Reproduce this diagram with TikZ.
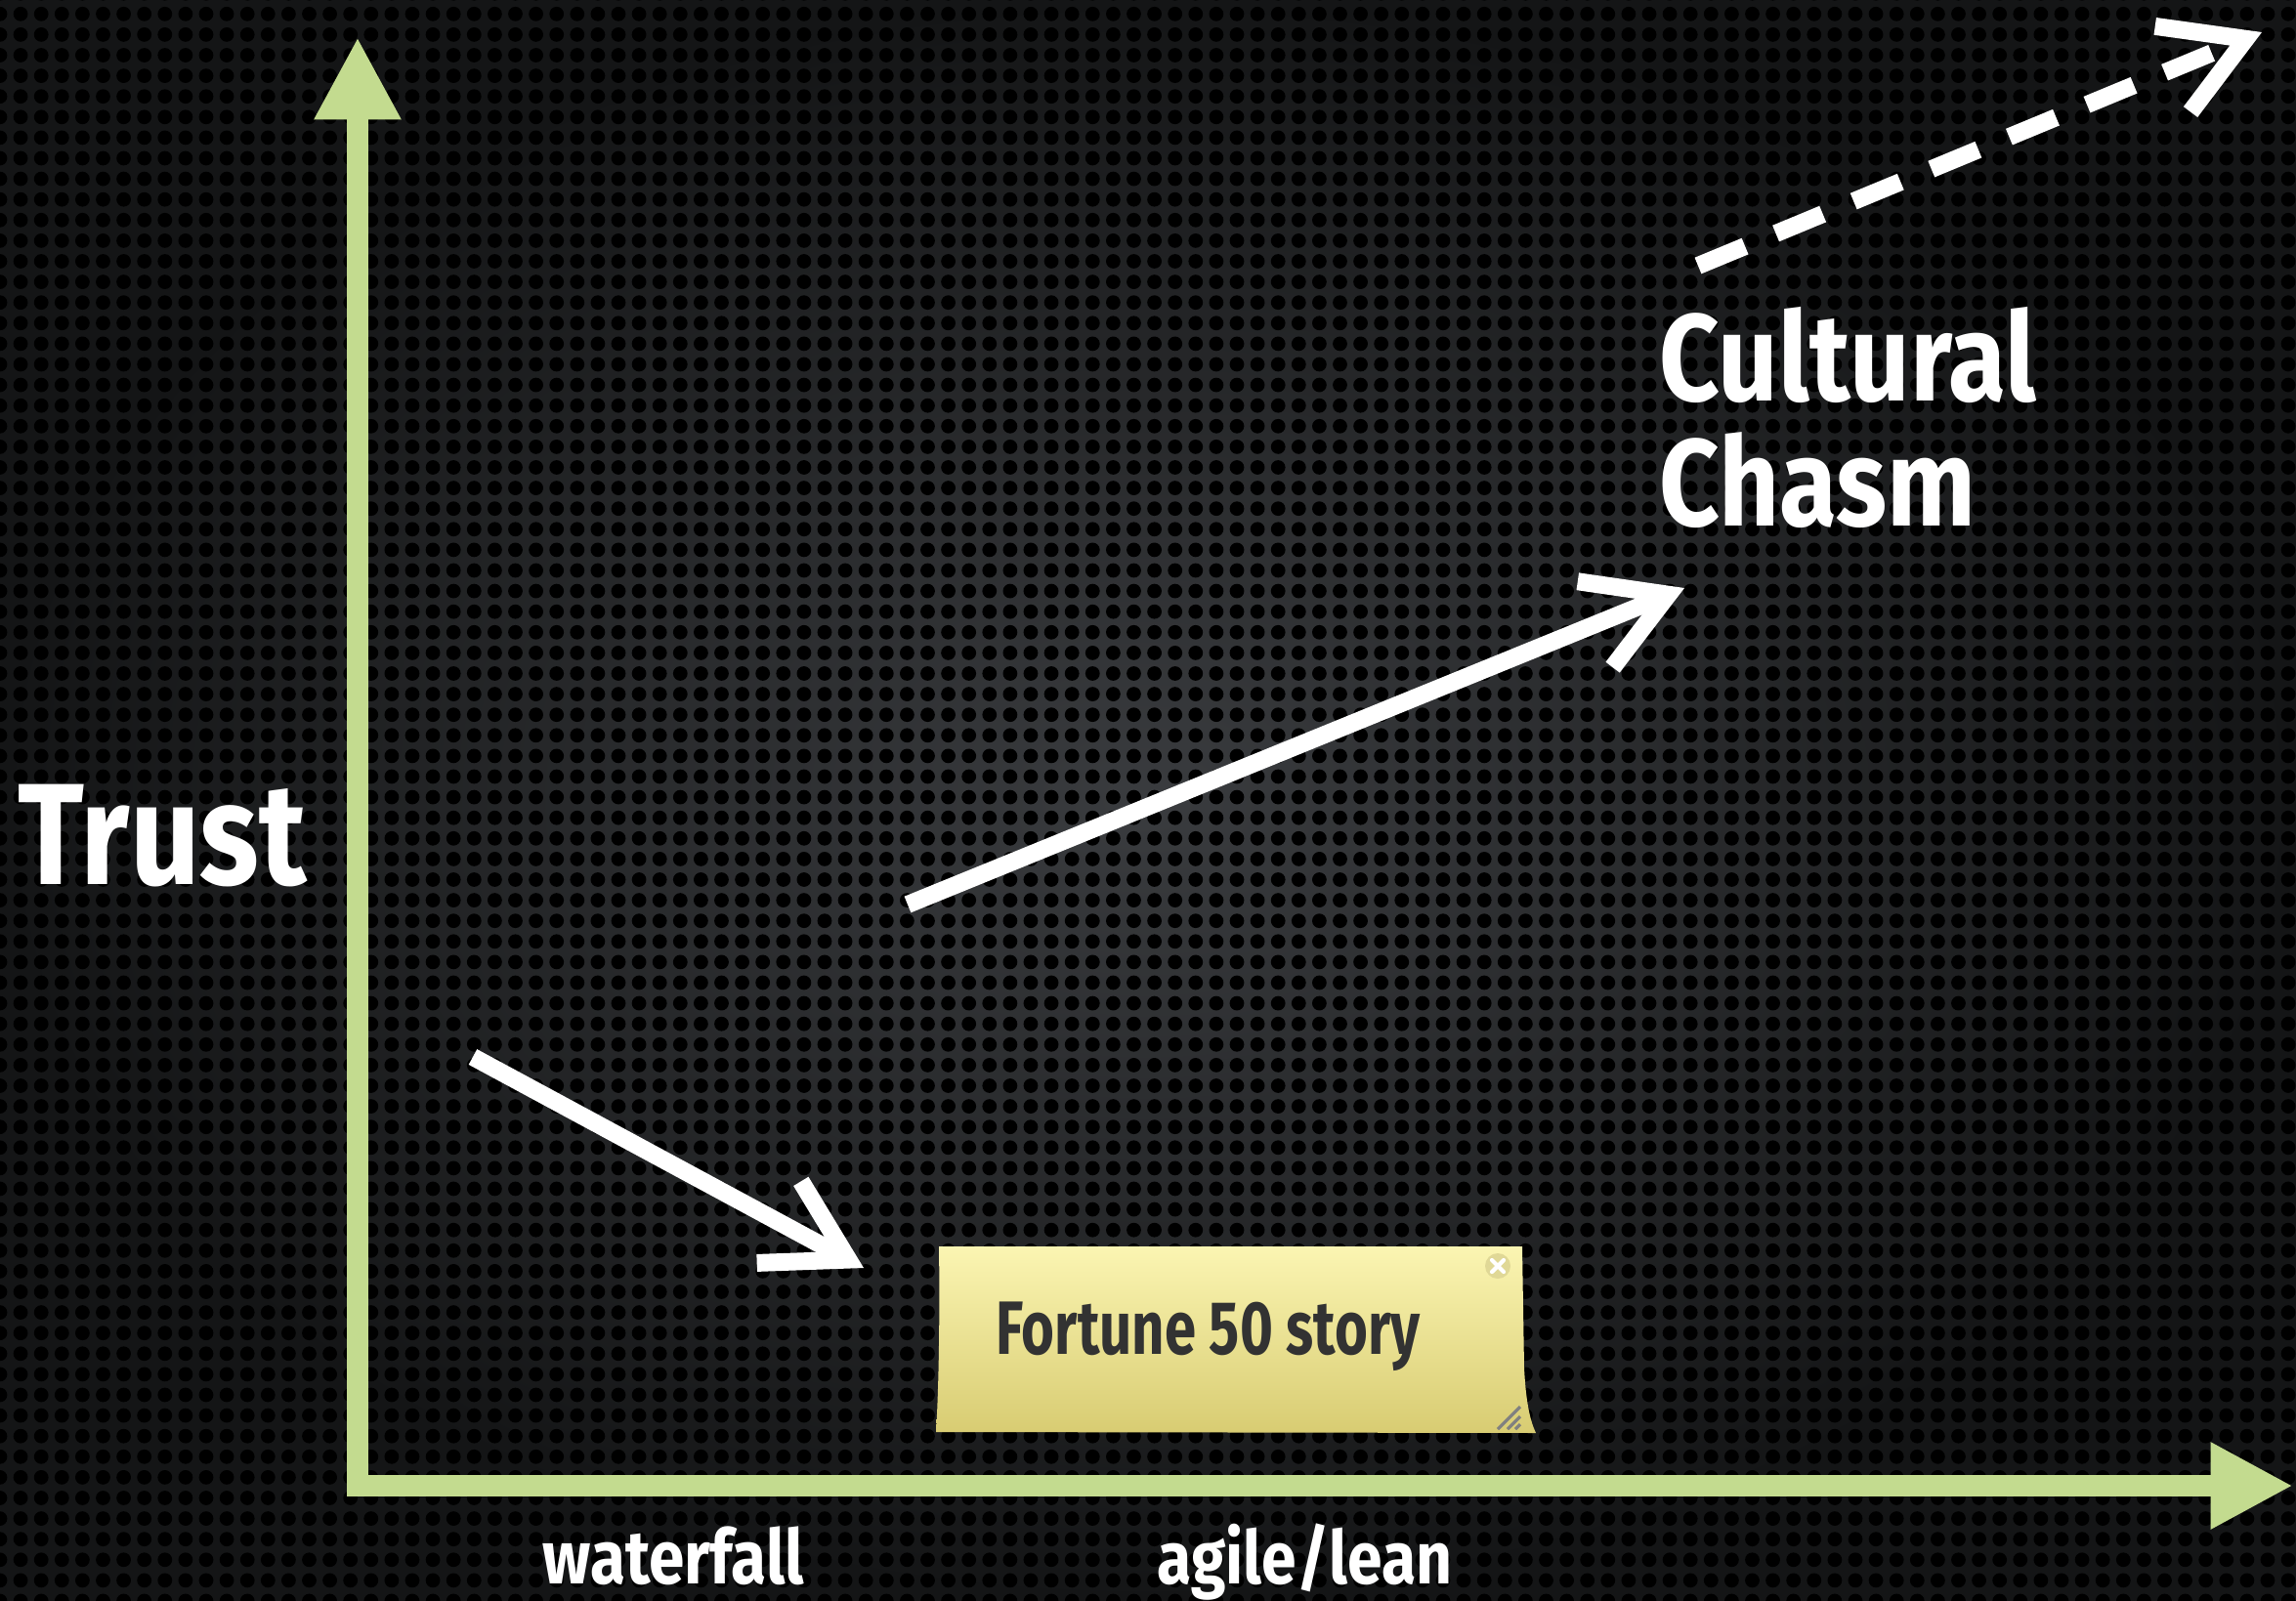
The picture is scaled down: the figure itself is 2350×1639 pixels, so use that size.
\documentclass[tikz,border=0pt]{standalone}
\usepackage{fontspec}
\setmainfont{Fira Sans}
\newfontfamily\handfont{Fira Sans}[FakeStretch=0.85]
\newfontfamily\notefont{Fira Sans}[FakeStretch=0.75]
\usetikzlibrary{arrows.meta,patterns.meta}

\definecolor{axisgreen}{RGB}{195,219,143}
\definecolor{plateinner}{RGB}{58,60,63}
\definecolor{plateouter}{RGB}{20,21,22}
\definecolor{notetop}{RGB}{251,245,178}
\definecolor{notebottom}{RGB}{216,204,114}
\definecolor{noteink}{RGB}{50,50,50}
\definecolor{closegray}{RGB}{224,216,150}

\tikzset{
  axisline/.style={draw=axisgreen, line width=6.3pt, line join=miter,
    {Triangle[length=24pt,width=23.6pt]}-{Triangle[length=24pt,width=23.6pt]}},
  trend/.style={draw=white, line width=5.1pt, -{Straight Barb[length=23pt,width=27pt]}},
  handtext/.style={text=white, inner sep=0pt, font=\handfont\bfseries\fontsize{#1}{#1}\selectfont},
  notetext/.style={text=noteink, inner sep=0pt, font=\notefont\bfseries\fontsize{22pt}{22pt}\selectfont}
}

\begin{document}
\begin{tikzpicture}[x=0.01cm, y=-0.01cm]

% perforated plate
\shade [inner color=plateinner, outer color=plateouter] (0,0) rectangle (2350,1639);
\fill [pattern={Dots[radius=2.1pt,distance=6pt]}, pattern color=black] (0,0) rectangle (2350,1639);
\useasboundingbox (0,0) rectangle (2350,1639);

% axes
\coordinate (origin) at (366,1521);
\coordinate (ytip) at (366,38);
\coordinate (xtip) at (2347,1521);
\draw [axisline] (ytip) -- (origin) -- (xtip);

\node [handtext=42pt, anchor=base west] (trust) at (18,905) {Trust};
\node [handtext=22pt, anchor=base west] (waterfall) at (555,1621) {waterfall};
\node [handtext=21.5pt, anchor=base west] (agile) at (1184,1621) {agile/lean};
\node [handtext=36pt, anchor=base west] (cultural) at (1698,410) {Cultural};
\node [handtext=36pt, anchor=base west] (chasm) at (1698,538) {Chasm};

% sticky note
\shade [top color=notetop, bottom color=notebottom] (961,1276) -- (1558,1276) -- (1560,1400)
  .. controls (1562,1440) and (1567,1456) .. (1572,1467) -- (958,1466)
  .. controls (961,1420) and (962,1340) .. (961,1276) -- cycle;
\node [notetext, anchor=base west] (story) at (1019,1386) {Fortune 50 story};
\coordinate (closebtn) at (1533,1296);
\fill [closegray] (closebtn) circle (13);
\draw [white, line width=1.2pt, line cap=round] ([shift={(-6,-6)}]closebtn) -- ([shift={(6,6)}]closebtn);
\draw [white, line width=1.2pt, line cap=round] ([shift={(-6,6)}]closebtn) -- ([shift={(6,-6)}]closebtn);
\foreach \d in {0,10,18}
  \draw [gray, line width=0.9pt] (1533+\d,1463) -- (1556,1440+\d);

% trend arrows
\coordinate (dropstart) at (484,1082);
\coordinate (dropend) at (884,1298);
\coordinate (risestart) at (929,926);
\coordinate (riseend) at (1724,602);
\coordinate (chasmstart) at (1738,272);
\coordinate (chasmend) at (2315,33);

\draw [trend] (dropstart) -- (dropend);
\draw [trend] (risestart) -- (riseend);
\draw [trend, dash pattern=on 14.8pt off 9.7pt] (chasmstart) -- (chasmend);
\end{tikzpicture}
\end{document}
